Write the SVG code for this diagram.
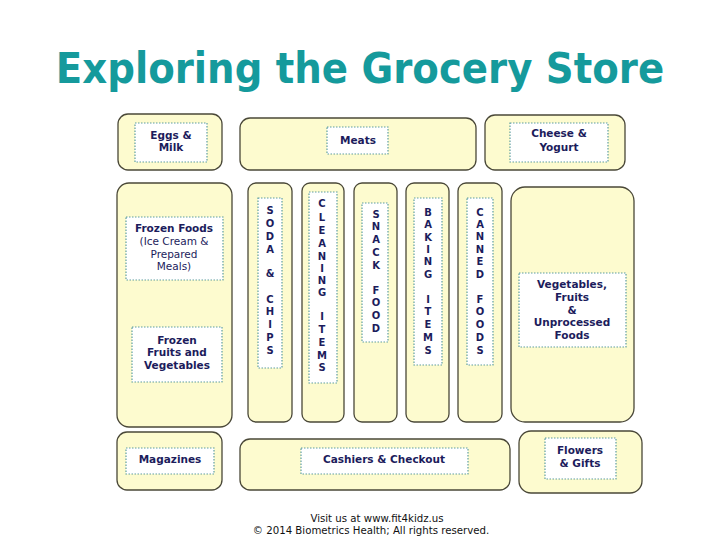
<svg xmlns="http://www.w3.org/2000/svg" width="720" height="540" viewBox="0 0 720 540">
<style>
.sec{fill:#fdfbcf;stroke:#4a4838;stroke-width:1.3}
.lab{fill:#ffffff;stroke:#5f9ea0;stroke-width:1.2;stroke-dasharray:1.5 1.5}
.t{font-family:"DejaVu Sans","Verdana",sans-serif;font-size:10.5px;font-weight:bold;fill:#1c1c5c;text-anchor:middle}
.r{font-weight:normal}
.v{font-family:"DejaVu Sans",sans-serif;font-size:10px;font-weight:bold;fill:#1c1c5c;text-anchor:middle}
.f{font-family:"DejaVu Sans",sans-serif;font-size:10.2px;fill:#111;text-anchor:middle}
.title{font-family:"DejaVu Sans Condensed","DejaVu Sans",sans-serif;font-weight:bold;font-size:43px;fill:#159a9c;text-anchor:middle}
</style>
<rect width="720" height="540" fill="#ffffff"/>
<text class="title" x="360" y="83">Exploring the Grocery Store</text>

<g id="eggs-milk">
<rect class="sec" x="118" y="114" width="104" height="56" rx="10"/>
<rect class="lab" x="135" y="123" width="72" height="39"/>
<text class="t" x="171" y="139">Eggs &amp;</text>
<text class="t" x="171" y="151">Milk</text>
</g>
<g id="meats">
<rect class="sec" x="240" y="118" width="236" height="52" rx="10"/>
<rect class="lab" x="327" y="127" width="61" height="27"/>
<text class="t" x="358" y="144">Meats</text>
</g>
<g id="cheese-yogurt">
<rect class="sec" x="485" y="115" width="140" height="55" rx="10"/>
<rect class="lab" x="510" y="123" width="98" height="39"/>
<text class="t" x="559" y="137">Cheese &amp;</text>
<text class="t" x="559" y="151">Yogurt</text>
</g>

<g id="frozen">
<rect class="sec" x="117" y="183" width="115" height="244" rx="12"/>
<rect class="lab" x="126" y="217" width="97" height="63"/>
<text class="t" x="174" y="232">Frozen Foods</text>
<text class="t r" x="174" y="245">(Ice Cream &amp;</text>
<text class="t r" x="174" y="258">Prepared</text>
<text class="t r" x="174" y="270">Meals)</text>
<rect class="lab" x="132" y="327" width="90" height="55"/>
<text class="t" x="177" y="344">Frozen</text>
<text class="t" x="177" y="356">Fruits and</text>
<text class="t" x="177" y="369">Vegetables</text>
</g>

<g id="aisle-soda">
<rect class="sec" x="248" y="183" width="44" height="239" rx="8"/>
<rect class="lab" x="258" y="198" width="24" height="170"/>
<g class="v">
<text x="270" y="214">S</text><text x="270" y="227">O</text><text x="270" y="240">D</text><text x="270" y="253">A</text>
<text x="270" y="277">&amp;</text>
<text x="270" y="303">C</text><text x="270" y="315">H</text><text x="270" y="328">I</text><text x="270" y="341">P</text><text x="270" y="354">S</text>
</g>
</g>
<g id="aisle-cleaning">
<rect class="sec" x="302" y="183" width="42" height="239" rx="8"/>
<rect class="lab" x="309" y="192" width="28" height="191"/>
<g class="v">
<text x="322" y="207">C</text><text x="322" y="221">L</text><text x="322" y="234">E</text><text x="322" y="247">A</text><text x="322" y="260">N</text><text x="322" y="272">I</text><text x="322" y="284">N</text><text x="322" y="296">G</text>
<text x="322" y="320">I</text><text x="322" y="333">T</text><text x="322" y="346">E</text><text x="322" y="359">M</text><text x="322" y="371">S</text>
</g>
</g>
<g id="aisle-snack">
<rect class="sec" x="354" y="183" width="43" height="239" rx="8"/>
<rect class="lab" x="362" y="203" width="26" height="139"/>
<g class="v">
<text x="376" y="218">S</text><text x="376" y="230">N</text><text x="376" y="243">A</text><text x="376" y="256">C</text><text x="376" y="269">K</text>
<text x="376" y="294">F</text><text x="376" y="306">O</text><text x="376" y="319">O</text><text x="376" y="332">D</text>
</g>
</g>
<g id="aisle-baking">
<rect class="sec" x="406" y="183" width="43" height="239" rx="8"/>
<rect class="lab" x="414" y="198" width="28" height="167"/>
<g class="v">
<text x="428" y="216">B</text><text x="428" y="228">A</text><text x="428" y="241">K</text><text x="428" y="253">I</text><text x="428" y="265">N</text><text x="428" y="278">G</text>
<text x="428" y="303">I</text><text x="428" y="315">T</text><text x="428" y="328">E</text><text x="428" y="341">M</text><text x="428" y="354">S</text>
</g>
</g>
<g id="aisle-canned">
<rect class="sec" x="458" y="183" width="44" height="239" rx="8"/>
<rect class="lab" x="467" y="198" width="26" height="167"/>
<g class="v">
<text x="480" y="216">C</text><text x="480" y="228">A</text><text x="480" y="240">N</text><text x="480" y="253">N</text><text x="480" y="265">E</text><text x="480" y="278">D</text>
<text x="480" y="303">F</text><text x="480" y="315">O</text><text x="480" y="328">O</text><text x="480" y="341">D</text><text x="480" y="354">S</text>
</g>
</g>

<g id="produce">
<rect class="sec" x="511" y="187" width="123" height="235" rx="14"/>
<rect class="lab" x="519" y="273" width="107" height="74"/>
<text class="t" x="572" y="288">Vegetables,</text>
<text class="t" x="572" y="301">Fruits</text>
<text class="t" x="572" y="314">&amp;</text>
<text class="t" x="572" y="326">Unprocessed</text>
<text class="t" x="572" y="339">Foods</text>
</g>

<g id="magazines">
<rect class="sec" x="117" y="432" width="105" height="58" rx="10"/>
<rect class="lab" x="126" y="448" width="88" height="26"/>
<text class="t" x="170" y="463">Magazines</text>
</g>
<g id="cashiers">
<rect class="sec" x="240" y="439" width="270" height="51" rx="10"/>
<rect class="lab" x="301" y="448" width="167" height="26"/>
<text class="t" x="384" y="463">Cashiers &amp; Checkout</text>
</g>
<g id="flowers">
<rect class="sec" x="519" y="431" width="123" height="62" rx="12"/>
<rect class="lab" x="545" y="438" width="71" height="41"/>
<text class="t" x="580" y="454">Flowers</text>
<text class="t" x="580" y="467">&amp; Gifts</text>
</g>

<g id="connectors"></g>

<text class="f" x="377" y="522">Visit us at www.fit4kidz.us</text>
<text class="f" x="371" y="534">© 2014 Biometrics Health; All rights reserved.</text>
</svg>
